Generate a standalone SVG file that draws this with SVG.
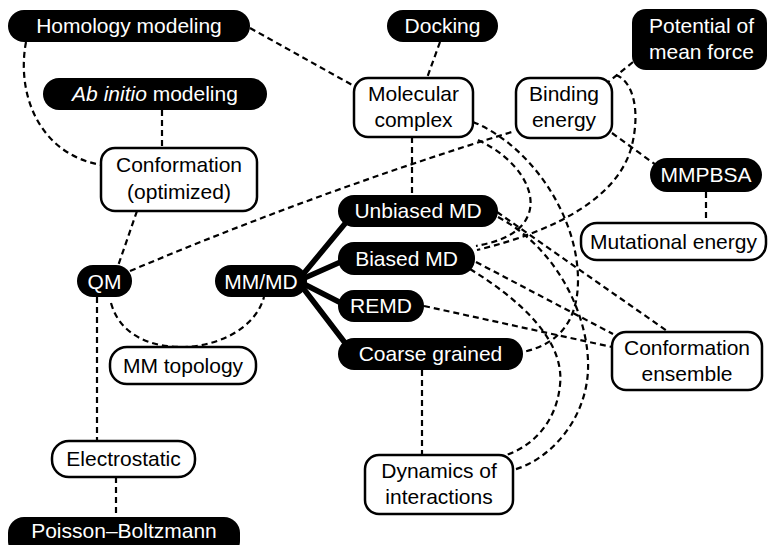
<svg xmlns="http://www.w3.org/2000/svg" width="769" height="545" viewBox="0 0 769 545">
  <style>
    .dark rect { fill: #000; }
    .dark text { fill: #fff; }
    .light rect { fill: #fff; stroke: #000; stroke-width: 2.5; }
    .light text { fill: #000; }
    text { font-family: "Liberation Sans", Arial, Helvetica, sans-serif; font-size: 21px; text-anchor: middle; }
    .dash { fill: none; stroke: #000; stroke-width: 2.2; stroke-dasharray: 6 4; }
    .thick { fill: none; stroke: #000; stroke-width: 5.5; stroke-linecap: round; }
  </style>
  <rect width="769" height="545" fill="#fff"/>

  <g id="connectors">
    <!-- MM/MD fan to the MD flavours -->
    <path class="thick" d="M300,278 L348,220"/>
    <path class="thick" d="M300,280 L345,260"/>
    <path class="thick" d="M300,282 L345,305"/>
    <path class="thick" d="M300,284 L352,352"/>

    <path class="dash" d="M250,28 L354,86"/>
    <path class="dash" d="M26,42 C16,95 40,155 102,165"/>
    <path class="dash" d="M162,110 L162,148"/>
    <path class="dash" d="M440,42 L427,78"/>
    <path class="dash" d="M412,137 L412,195"/>
    <path class="dash" d="M137,211 L118,266"/>
    <path class="dash" d="M130,271 Q322,190 515,131"/>
    <path class="dash" d="M111,303 C120,335 150,347 182,347 C215,347 255,330 264,297"/>
    <path class="dash" d="M97,297 L97,441"/>
    <path class="dash" d="M116,477 L116,517"/>
    <path class="dash" d="M422,370 L422,456"/>
    <path class="dash" d="M612,133 L656,165"/>
    <path class="dash" d="M706,192 L706,223"/>
    <path class="dash" d="M633,62 L607,83"/>
    <path class="dash" d="M616,75 C634,82 640,112 632,145 C620,195 560,230 477,250"/>
    <path class="dash" d="M478,140 C520,160 536,192 529,213 C522,234 498,242 476,246"/>
    <path class="dash" d="M473,122 C530,145 578,215 578,280 C578,325 555,345 523,352"/>
    <path class="dash" d="M497,212 L667,331"/>
    <path class="dash" d="M498,217 C560,250 590,320 588,370 C586,420 550,460 513,470"/>
    <path class="dash" d="M476,262 L613,334"/>
    <path class="dash" d="M470,269 C520,300 565,340 560,385 C556,425 530,448 503,456"/>
    <path class="dash" d="M424,306 L612,347"/>
  </g>

  <g id="homology" class="dark">
    <rect x="8" y="10" width="242" height="32" rx="16"/>
    <text x="129" y="33">Homology modeling</text>
  </g>
  <g id="docking" class="dark">
    <rect x="387" y="10" width="111" height="32" rx="16"/>
    <text x="442.5" y="33">Docking</text>
  </g>
  <g id="pmf" class="dark">
    <rect x="632" y="9" width="135" height="61" rx="14"/>
    <text x="701.5" y="33">Potential of</text>
    <text x="701.5" y="59">mean force</text>
  </g>
  <g id="abinitio" class="dark">
    <rect x="43" y="78" width="224" height="32" rx="16"/>
    <text x="155" y="101"><tspan font-style="italic">Ab initio</tspan> modeling</text>
  </g>
  <g id="molecular-complex" class="light">
    <rect x="354" y="78" width="119" height="59" rx="14"/>
    <text x="413.5" y="101">Molecular</text>
    <text x="413.5" y="127">complex</text>
  </g>
  <g id="binding-energy" class="light">
    <rect x="516" y="78" width="96" height="60" rx="14"/>
    <text x="564" y="101">Binding</text>
    <text x="564" y="127">energy</text>
  </g>
  <g id="conformation-optimized" class="light">
    <rect x="101" y="148" width="156" height="63" rx="14"/>
    <text x="179" y="172">Conformation</text>
    <text x="179" y="199">(optimized)</text>
  </g>
  <g id="mmpbsa" class="dark">
    <rect x="650" y="158" width="112" height="34" rx="17"/>
    <text x="706" y="182">MMPBSA</text>
  </g>
  <g id="unbiased-md" class="dark">
    <rect x="338" y="195" width="160" height="32" rx="16"/>
    <text x="418" y="218">Unbiased MD</text>
  </g>
  <g id="mutational-energy" class="light">
    <rect x="581" y="223" width="185" height="37" rx="16"/>
    <text x="673.5" y="249">Mutational energy</text>
  </g>
  <g id="biased-md" class="dark">
    <rect x="338" y="242" width="137" height="33" rx="16"/>
    <text x="406.5" y="266">Biased MD</text>
  </g>
  <g id="qm" class="dark">
    <rect x="77" y="265" width="55" height="32" rx="16"/>
    <text x="104.5" y="289">QM</text>
  </g>
  <g id="mmmd" class="dark">
    <rect x="215" y="265" width="92" height="32" rx="16"/>
    <text x="261" y="289">MM/MD</text>
  </g>
  <g id="remd" class="dark">
    <rect x="338" y="290" width="86" height="32" rx="16"/>
    <text x="381" y="313">REMD</text>
  </g>
  <g id="mm-topology" class="light">
    <rect x="110" y="347" width="146" height="37" rx="17"/>
    <text x="183" y="373">MM topology</text>
  </g>
  <g id="conformation-ensemble" class="light">
    <rect x="612" y="332" width="150" height="58" rx="14"/>
    <text x="687" y="355">Conformation</text>
    <text x="687" y="381">ensemble</text>
  </g>
  <g id="coarse-grained" class="dark">
    <rect x="338" y="338" width="185" height="32" rx="16"/>
    <text x="430.5" y="361">Coarse grained</text>
  </g>
  <g id="electrostatic" class="light">
    <rect x="52" y="441" width="143" height="36" rx="17"/>
    <text x="123.5" y="466">Electrostatic</text>
  </g>
  <g id="dynamics" class="light">
    <rect x="365" y="455" width="148" height="59" rx="14"/>
    <text x="439" y="478">Dynamics of</text>
    <text x="439" y="504">interactions</text>
  </g>
  <g id="poisson-boltzmann" class="dark">
    <rect x="8" y="517" width="232" height="40" rx="16"/>
    <text x="124" y="538">Poisson–Boltzmann</text>
  </g>
</svg>
